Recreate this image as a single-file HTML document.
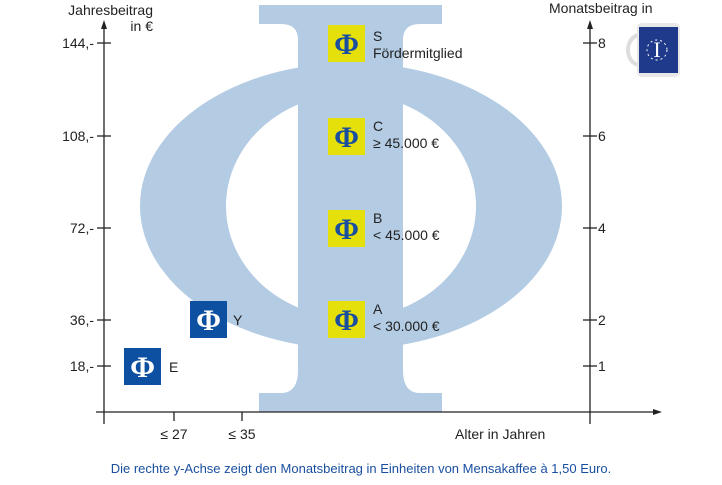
<!DOCTYPE html><html><head><meta charset="utf-8"><style>
body{margin:0;background:#fff;width:722px;height:480px;overflow:hidden;font-family:"Liberation Sans",sans-serif}
</style></head><body>
<svg width="722" height="480" viewBox="0 0 722 480" xmlns="http://www.w3.org/2000/svg" font-family="Liberation Sans, sans-serif">
<g fill="#b3cbe3">
<path fill-rule="evenodd" d="M140,206 a211,143 0 1,0 422,0 a211,143 0 1,0 -422,0 Z M226,206 a125,112 0 1,0 250,0 a125,112 0 1,0 -250,0 Z"/>
<path d="M259,5 H442 V24 H420 Q403,24 403,40 V370 Q403,393 420,393 H442 V412 H259 V393 H281 Q298,393 298,370 V40 Q298,24 281,24 H259 Z"/>
</g>
<g stroke="#222" stroke-width="1.3" fill="none">
<line x1="104" y1="26" x2="104" y2="424"/>
<line x1="96" y1="412" x2="656" y2="412"/>
<line x1="590" y1="26" x2="590" y2="424"/>
<line x1="97" y1="43" x2="111" y2="43"/><line x1="97" y1="136" x2="111" y2="136"/><line x1="97" y1="228" x2="111" y2="228"/><line x1="97" y1="320" x2="111" y2="320"/><line x1="97" y1="366" x2="111" y2="366"/>
<line x1="583" y1="43" x2="597" y2="43"/><line x1="583" y1="136" x2="597" y2="136"/><line x1="583" y1="228" x2="597" y2="228"/><line x1="583" y1="320" x2="597" y2="320"/><line x1="583" y1="366" x2="597" y2="366"/>
<line x1="174" y1="412" x2="174" y2="421"/><line x1="242" y1="412" x2="242" y2="421"/>
</g>
<g fill="#222"><path d="M104,20 l-3,9 h6z"/><path d="M590,20 l-3,9 h6z"/><path d="M662,412 l-9,-3 v6z"/></g>
<g font-size="14" fill="#222">
<text x="153" y="15" text-anchor="end">Jahresbeitrag</text>
<text x="153" y="31" text-anchor="end">in €</text>
<text x="94" y="48" text-anchor="end">144,-</text>
<text x="94" y="141" text-anchor="end">108,-</text>
<text x="94" y="233" text-anchor="end">72,-</text>
<text x="94" y="325" text-anchor="end">36,-</text>
<text x="94" y="371" text-anchor="end">18,-</text>
<text x="549" y="13">Monatsbeitrag in</text>
<text x="598" y="48">8</text><text x="598" y="141">6</text><text x="598" y="233">4</text><text x="598" y="325">2</text><text x="598" y="371">1</text>
<text x="174" y="439" text-anchor="middle">≤ 27</text>
<text x="242" y="439" text-anchor="middle">≤ 35</text>
<text x="455" y="439">Alter in Jahren</text>
<text x="373" y="41">S</text><text x="373" y="58">Fördermitglied</text>
<text x="373" y="131">C</text><text x="373" y="148">≥ 45.000 €</text>
<text x="373" y="223">B</text><text x="373" y="240">&lt; 45.000 €</text>
<text x="373" y="314">A</text><text x="373" y="331">&lt; 30.000 €</text>
<text x="233" y="325">Y</text><text x="169" y="372">E</text>
</g>
<g font-family="Liberation Serif, serif" font-weight="bold" font-size="30" text-anchor="middle">
<rect x="328" y="25" width="37" height="37" fill="#e5e00a"/><text x="346.5" y="54" fill="#1a4fa0">Φ</text>
<rect x="328" y="118" width="37" height="37" fill="#e5e00a"/><text x="346.5" y="147" fill="#1a4fa0">Φ</text>
<rect x="328" y="210" width="37" height="37" fill="#e5e00a"/><text x="346.5" y="239" fill="#1a4fa0">Φ</text>
<rect x="328" y="301" width="37" height="37" fill="#e5e00a"/><text x="346.5" y="330" fill="#1a4fa0">Φ</text>
<rect x="190" y="301" width="37" height="37" fill="#0d4fa0"/><text x="208.5" y="330" fill="#fff">Φ</text>
<rect x="124" y="348" width="37" height="37" fill="#0d4fa0"/><text x="142.5" y="377" fill="#fff">Φ</text>
</g>
<g>
<ellipse cx="640" cy="50" rx="12" ry="15" fill="none" stroke="#ddd" stroke-width="4"/>
<rect x="637" y="23" width="43" height="54" rx="5" fill="#e8e8e8"/>
<rect x="639" y="27" width="39" height="46" fill="#1f3a8a"/>
<text x="657" y="57" font-family="Liberation Serif, serif" font-size="22" fill="#fff" text-anchor="middle">I</text>
<circle cx="657" cy="50" r="10" fill="none" stroke="#fff" stroke-width="1" stroke-dasharray="2 3"/>
</g>
<text x="361" y="473" font-size="13" fill="#1a4fa0" text-anchor="middle">Die rechte y-Achse zeigt den Monatsbeitrag in Einheiten von Mensakaffee à 1,50 Euro.</text>
</svg>
</body></html>
